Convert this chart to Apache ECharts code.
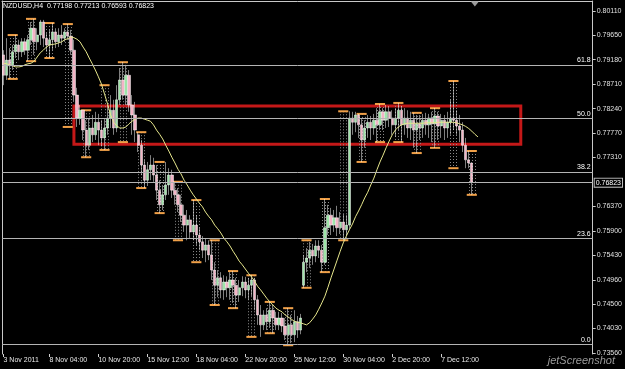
<!DOCTYPE html>
<html>
<head>
<meta charset="utf-8">
<script src="https://cdn.jsdelivr.net/npm/echarts@6/dist/echarts.min.js"></script>
<style>
html, body { margin: 0; padding: 0; background: #000; }
#chart { width: 625px; height: 369px; }
</style>
</head>
<body>
<div id="chart"></div>
<script>
// NZDUSD H4, 3 Nov - 9 Dec 2011
var headerText = 'NZDUSD,H4  0.77198 0.77213 0.76593 0.76823';

// bar slots (H4 bars, weekends skipped), incl. empty space right of last bar
var categories = [];
for (var n = 0; n < 193; n++) categories.push(String(n));

var xTickIndex = [0, 15, 31, 47, 63, 79, 95, 111, 127, 143];
var xTickLabels = ['3 Nov 2011', '8 Nov 04:00', '10 Nov 20:00', '15 Nov 12:00', '18 Nov 04:00',
  '22 Nov 20:00', '25 Nov 12:00', '30 Nov 04:00', '2 Dec 20:00', '7 Dec 12:00'];

var yTicks = [0.8011, 0.7965, 0.7918, 0.7871, 0.7824, 0.7777, 0.7731, 0.7637, 0.7590,
  0.7543, 0.7496, 0.7450, 0.7403, 0.7356];

// [open, close, low, high]
var candles = [
  [0.7927,0.7888,0.7869,0.7936],[0.7888,0.7917,0.7879,0.7959],[0.7917,0.7906,0.7881,0.7940],[0.7906,0.7933,0.7898,0.7946],
  [0.7933,0.7946,0.7921,0.7965],[0.7946,0.7933,0.7917,0.7956],[0.7933,0.7952,0.7923,0.7959],[0.7952,0.7936,0.7927,0.7959],
  [0.7936,0.7956,0.7915,0.7965],[0.7956,0.7978,0.7946,0.7990],[0.7978,0.7952,0.7927,0.7996],[0.7952,0.7965,0.7936,0.7978],
  [0.7965,0.7990,0.7946,0.7994],[0.7990,0.7959,0.7942,0.7994],[0.7959,0.7946,0.7933,0.7969],[0.7946,0.7956,0.7921,0.7975],
  [0.7956,0.7971,0.7936,0.7988],[0.7971,0.7952,0.7940,0.7978],[0.7952,0.7965,0.7942,0.7978],[0.7965,0.7959,0.7946,0.7984],
  [0.7959,0.7971,0.7952,0.7978],[0.7971,0.7963,0.7956,0.7986],[0.7963,0.7936,0.7927,0.7975],[0.7936,0.7850,0.7837,0.7956],
  [0.7850,0.7806,0.7789,0.7864],[0.7806,0.7821,0.7793,0.7831],[0.7821,0.7783,0.7764,0.7821],[0.7783,0.7754,0.7731,0.7802],
  [0.7754,0.7787,0.7745,0.7806],[0.7787,0.7774,0.7760,0.7812],[0.7774,0.7798,0.7764,0.7818],[0.7798,0.7783,0.7754,0.7814],
  [0.7783,0.7768,0.7752,0.7802],[0.7768,0.7787,0.7745,0.7806],[0.7787,0.7806,0.7774,0.7831],[0.7806,0.7821,0.7787,0.7850],
  [0.7821,0.7787,0.7774,0.7841],[0.7787,0.7841,0.7779,0.7869],[0.7841,0.7879,0.7831,0.7902],[0.7879,0.7850,0.7841,0.7913],
  [0.7850,0.7888,0.7831,0.7908],[0.7888,0.7831,0.7818,0.7898],[0.7831,0.7812,0.7774,0.7850],[0.7812,0.7783,0.7760,0.7837],
  [0.7774,0.7754,0.7741,0.7779],[0.7754,0.7716,0.7697,0.7764],[0.7716,0.7687,0.7672,0.7726],[0.7687,0.7707,0.7676,0.7722],
  [0.7707,0.7716,0.7687,0.7735],[0.7716,0.7697,0.7684,0.7730],[0.7697,0.7668,0.7649,0.7716],[0.7668,0.7640,0.7624,0.7687],
  [0.7640,0.7659,0.7630,0.7678],[0.7659,0.7678,0.7649,0.7722],[0.7678,0.7697,0.7659,0.7710],[0.7697,0.7668,0.7653,0.7707],
  [0.7668,0.7659,0.7640,0.7684],[0.7659,0.7640,0.7626,0.7672],[0.7640,0.7620,0.7607,0.7659],[0.7620,0.7601,0.7588,0.7640],
  [0.7601,0.7611,0.7572,0.7630],[0.7611,0.7588,0.7576,0.7620],[0.7588,0.7601,0.7572,0.7649],[0.7601,0.7582,0.7563,0.7620],
  [0.7582,0.7569,0.7553,0.7596],[0.7569,0.7553,0.7538,0.7580],[0.7553,0.7563,0.7530,0.7576],[0.7563,0.7544,0.7534,0.7572],
  [0.7544,0.7515,0.7496,0.7572],[0.7515,0.7486,0.7448,0.7530],[0.7486,0.7500,0.7463,0.7515],[0.7500,0.7477,0.7461,0.7511],
  [0.7477,0.7492,0.7458,0.7505],[0.7492,0.7481,0.7463,0.7503],[0.7481,0.7496,0.7458,0.7511],[0.7496,0.7486,0.7452,0.7513],
  [0.7486,0.7467,0.7442,0.7500],[0.7467,0.7481,0.7454,0.7496],[0.7481,0.7492,0.7465,0.7503],[0.7492,0.7477,0.7461,0.7502],
  [0.7477,0.7486,0.7458,0.7500],[0.7486,0.7496,0.7465,0.7505],[0.7496,0.7458,0.7438,0.7500],[0.7458,0.7429,0.7410,0.7467],
  [0.7429,0.7410,0.7387,0.7448],[0.7410,0.7429,0.7400,0.7438],[0.7429,0.7416,0.7400,0.7442],[0.7416,0.7438,0.7404,0.7454],
  [0.7438,0.7423,0.7394,0.7448],[0.7423,0.7410,0.7400,0.7435],[0.7410,0.7423,0.7400,0.7435],[0.7423,0.7408,0.7396,0.7433],
  [0.7408,0.7391,0.7381,0.7423],[0.7391,0.7410,0.7371,0.7442],[0.7410,0.7391,0.7375,0.7429],[0.7391,0.7416,0.7377,0.7438],
  [0.7416,0.7400,0.7385,0.7427],[0.7400,0.7423,0.7392,0.7431],[0.7486,0.7530,0.7481,0.7544],[0.7530,0.7538,0.7511,0.7557],
  [0.7538,0.7553,0.7519,0.7569],[0.7553,0.7542,0.7525,0.7565],[0.7542,0.7561,0.7530,0.7572],[0.7561,0.7553,0.7538,0.7572],
  [0.7553,0.7530,0.7511,0.7563],[0.7530,0.7596,0.7525,0.7651],[0.7596,0.7620,0.7582,0.7640],[0.7620,0.7601,0.7582,0.7634],
  [0.7601,0.7615,0.7588,0.7630],[0.7615,0.7596,0.7580,0.7638],[0.7596,0.7607,0.7584,0.7626],[0.7607,0.7592,0.7572,0.7622],
  [0.7592,0.7601,0.7580,0.7620],[0.7601,0.7806,0.7592,0.7819],[0.7806,0.7798,0.7774,0.7818],[0.7798,0.7812,0.7779,0.7818],
  [0.7812,0.7793,0.7768,0.7814],[0.7793,0.7764,0.7722,0.7806],[0.7764,0.7787,0.7749,0.7802],[0.7787,0.7798,0.7768,0.7812],
  [0.7798,0.7787,0.7764,0.7810],[0.7787,0.7802,0.7774,0.7814],[0.7802,0.7793,0.7760,0.7825],[0.7793,0.7818,0.7783,0.7833],
  [0.7818,0.7802,0.7783,0.7825],[0.7802,0.7818,0.7787,0.7831],[0.7818,0.7806,0.7789,0.7829],[0.7806,0.7793,0.7774,0.7821],
  [0.7793,0.7806,0.7770,0.7825],[0.7806,0.7821,0.7783,0.7835],[0.7821,0.7793,0.7760,0.7829],[0.7793,0.7806,0.7774,0.7825],
  [0.7806,0.7787,0.7768,0.7821],[0.7787,0.7802,0.7764,0.7818],[0.7802,0.7783,0.7749,0.7816],[0.7783,0.7795,0.7739,0.7812],
  [0.7795,0.7787,0.7764,0.7812],[0.7787,0.7802,0.7768,0.7814],[0.7802,0.7793,0.7774,0.7816],[0.7793,0.7806,0.7768,0.7814],
  [0.7806,0.7795,0.7760,0.7818],[0.7795,0.7810,0.7749,0.7825],[0.7810,0.7791,0.7764,0.7818],[0.7791,0.7802,0.7768,0.7814],
  [0.7802,0.7787,0.7764,0.7812],[0.7787,0.7798,0.7768,0.7818],[0.7798,0.7806,0.7774,0.7841],[0.7806,0.7802,0.7783,0.7877],
  [0.7802,0.7791,0.7774,0.7821],[0.7791,0.7783,0.7760,0.7812],[0.7783,0.7754,0.7741,0.7798],[0.7754,0.7726,0.7710,0.7768],
  [0.7726,0.7720,0.7710,0.7743],[0.77198,0.76823,0.76593,0.77213]
];

// yellow moving average (drawn shifted forward a couple of bars)
var maValues = [
  0.7911,0.7910,0.7908,0.7906,0.7904,0.7904,0.7905,0.7908,0.7910,0.7911,
  0.7915,0.7923,0.7931,0.7936,0.7942,0.7946,0.7947,0.7948,0.7950,0.7952,
  0.7956,0.7958,0.7961,0.7960,0.7957,0.7952,0.7942,0.7933,0.7921,0.7910,
  0.7898,0.7885,0.7871,0.7852,0.7833,0.7812,0.7798,0.7791,0.7787,0.7787,
  0.7789,0.7795,0.7800,0.7804,0.7806,0.7806,0.7804,0.7802,0.7800,0.7793,
  0.7783,0.7775,0.7766,0.7754,0.7743,0.7731,0.7720,0.7708,0.7699,0.7687,
  0.7678,0.7668,0.7659,0.7651,0.7643,0.7636,0.7626,0.7618,0.7611,0.7601,
  0.7594,0.7586,0.7576,0.7569,0.7561,0.7551,0.7542,0.7532,0.7525,0.7517,
  0.7509,0.7502,0.7494,0.7484,0.7477,0.7469,0.7461,0.7454,0.7448,0.7442,
  0.7438,0.7435,0.7429,0.7425,0.7421,0.7417,0.7415,0.7414,0.7412,0.7410,
  0.7414,0.7421,0.7429,0.7440,0.7452,0.7465,0.7482,0.7500,0.7517,0.7534,
  0.7551,0.7567,0.7580,0.7592,0.7603,0.7617,0.7628,0.7640,0.7653,0.7664,
  0.7678,0.7691,0.7707,0.7722,0.7735,0.7749,0.7762,0.7774,0.7783,0.7789,
  0.7793,0.7795,0.7796,0.7796,0.7796,0.7796,0.7796,0.7796,0.7797,0.7797,
  0.7797,0.7797,0.7798,0.7798,0.7798,0.7798,0.7798,0.7798,0.7797,0.7795,
  0.7793,0.7790,0.7786,0.7781,0.7775,0.7770
];

// daily range overlay: first bar of each day, day high, day low
var dayStart = [2, 8, 14, 20, 26, 32, 38, 44, 50, 56, 62, 68, 74, 80, 86, 92, 98, 104, 110, 116, 122, 128, 134, 140, 146, 152];
var dayHigh = [0.7965,0.7996,0.7988,0.7986,0.7821,0.7869,0.7913,0.7779,0.7722,0.7684,0.7649,0.7572,0.7513,
  0.7505,0.7454,0.7442,0.7572,0.7651,0.7819,0.7814,0.7833,0.7835,0.7816,0.7825,0.7877,0.7743];
var dayLow = [0.7881,0.7915,0.7921,0.7789,0.7731,0.7745,0.7760,0.7672,0.7624,0.7572,0.7530,0.7448,0.7442,
  0.7387,0.7394,0.7371,0.7481,0.7511,0.7572,0.7722,0.7760,0.7760,0.7739,0.7749,0.7710,0.7659];

// fibonacci levels
var fibLabels = ['0.0', '23.6', '38.2', '50.0', '61.8'];
var fibPrices = [0.7373, 0.7576, 0.7703, 0.7806, 0.7908];

var lastPrice = 0.76823;

// red rectangle (bar index / price)
var rectStart = 23, rectEnd = 169, rectTop = 0.7829, rectBottom = 0.7756;

var yMin = 0.73542, yMax = 0.80302;
var font = 'Liberation Sans';

function isTick(index) {
  return xTickIndex.indexOf(index) >= 0;
}

function renderDay(params, api) {
  var s = api.value(0);
  var top = api.coord([s, api.value(1)])[1];
  var bot = api.coord([s, api.value(2)])[1];
  var children = [];
  for (var k = 0; k < 3; k++) {
    var x = Math.round(api.coord([s + k, api.value(1)])[0]) + 0.5;
    children.push({
      type: 'line',
      shape: { x1: x, y1: top, x2: x, y2: bot },
      style: { stroke: '#8c8c8c', lineWidth: 1, lineDash: [1, 2] }
    });
  }
  var xa = api.coord([s, 0])[0] - 2;
  var xb = api.coord([s + 2, 0])[0] + 2;
  children.push({ type: 'rect', shape: { x: xa, y: top - 1, width: xb - xa, height: 2 }, style: { fill: '#f0a048' } });
  children.push({ type: 'rect', shape: { x: xa, y: bot - 1, width: xb - xa, height: 2 }, style: { fill: '#f0a048' } });
  return { type: 'group', children: children };
}

var fibLines = fibPrices.map(function (p, i) {
  return { yAxis: p, label: { formatter: fibLabels[i] } };
});
fibLines.push({
  yAxis: lastPrice,
  label: {
    position: 'end', distance: 2, formatter: lastPrice.toFixed(5),
    color: '#ffffff', backgroundColor: '#000', borderColor: '#bdbdbd', borderWidth: 1,
    padding: [1, 1, 0, 1]
  }
});

var myChart = echarts.init(document.getElementById('chart'));
var option = {
  backgroundColor: '#000',
  animation: false,
  title: {
    text: headerText, left: 3, top: 3, padding: 0,
    textStyle: { color: '#ffffff', fontSize: 7, fontWeight: 'normal', fontFamily: font }
  },
  grid: { left: 2, right: 32, top: 1, bottom: 15 },
  xAxis: [{
    type: 'category',
    data: categories,
    boundaryGap: true,
    axisLine: { show: false },
    axisTick: { show: true, alignWithLabel: true, interval: isTick, length: 3, lineStyle: { color: '#d0d0d0' } },
    axisLabel: {
      interval: isTick,
      formatter: function (v, i) {
        var k = xTickIndex.indexOf(i);
        return k >= 0 ? xTickLabels[k] : '';
      },
      color: '#e8e8e8', fontSize: 7, fontFamily: font, align: 'left', margin: 3
    },
    splitLine: { show: false }
  }, {
    type: 'category',
    data: categories,
    position: 'top',
    axisLine: { show: true, onZero: false, lineStyle: { color: '#c8c8c8' } },
    axisTick: { show: false },
    axisLabel: { show: false },
    splitLine: { show: false }
  }],
  yAxis: [{
    type: 'value', position: 'right', min: yMin, max: yMax,
    axisLine: { show: true, lineStyle: { color: '#c8c8c8' } },
    axisTick: { show: true, customValues: yTicks, length: 3, lineStyle: { color: '#c8c8c8' } },
    axisLabel: {
      customValues: yTicks,
      formatter: function (v) { return v.toFixed(5); },
      color: '#e0e0e0', fontSize: 7, fontFamily: font, margin: 4
    },
    splitLine: { show: false }
  }, {
    type: 'value', position: 'left', min: yMin, max: yMax,
    axisLine: { show: true, onZero: false, lineStyle: { color: '#c8c8c8' } },
    axisTick: { show: false },
    axisLabel: { show: false },
    splitLine: { show: false }
  }],
  series: [{
    name: 'daily',
    type: 'custom',
    renderItem: renderDay,
    data: dayStart.map(function (s, i) { return [s, dayHigh[i], dayLow[i]]; }),
    encode: { x: 0, y: [1, 2] },
    silent: true,
    z: 1
  }, {
    name: 'NZDUSD',
    type: 'candlestick',
    data: candles,
    barWidth: 2.8,
    itemStyle: {
      color: '#9ee6a8',
      color0: '#f4b4c6',
      borderColor: '#ffffff',
      borderColor0: '#ffffff',
      borderWidth: 0.5
    },
    z: 2,
    markLine: {
      silent: true,
      precision: 5,
      symbol: ['none', 'none'],
      lineStyle: { color: '#b4b4b4', width: 1, type: 'solid' },
      label: { position: 'insideEndTop', color: '#ffffff', fontSize: 7, fontFamily: font, distance: [2, 1] },
      data: fibLines
    },
    markArea: {
      silent: true,
      itemStyle: { color: 'rgba(0,0,0,0)', borderColor: '#c41818', borderWidth: 3 },
      data: [[{ xAxis: String(rectStart), yAxis: rectTop }, { xAxis: String(rectEnd), yAxis: rectBottom }]]
    },
    markPoint: {
      silent: true,
      data: [{
        coord: ['154', yMax], symbol: 'triangle', symbolSize: [8, 5], symbolRotate: 180,
        symbolOffset: [0, 3], itemStyle: { color: '#9a9a9a' }, label: { show: false }
      }]
    }
  }, {
    name: 'MA',
    type: 'line',
    data: maValues,
    symbol: 'none',
    lineStyle: { color: '#e6e68c', width: 1 },
    z: 3
  }],
  graphic: [{
    type: 'text', right: 10, bottom: 3,
    style: { text: 'jetScreenshot', fill: '#9a9a9a', font: 'italic 11px "Liberation Sans"' }
  }]
};
myChart.setOption(option);
</script>
</body>
</html>
